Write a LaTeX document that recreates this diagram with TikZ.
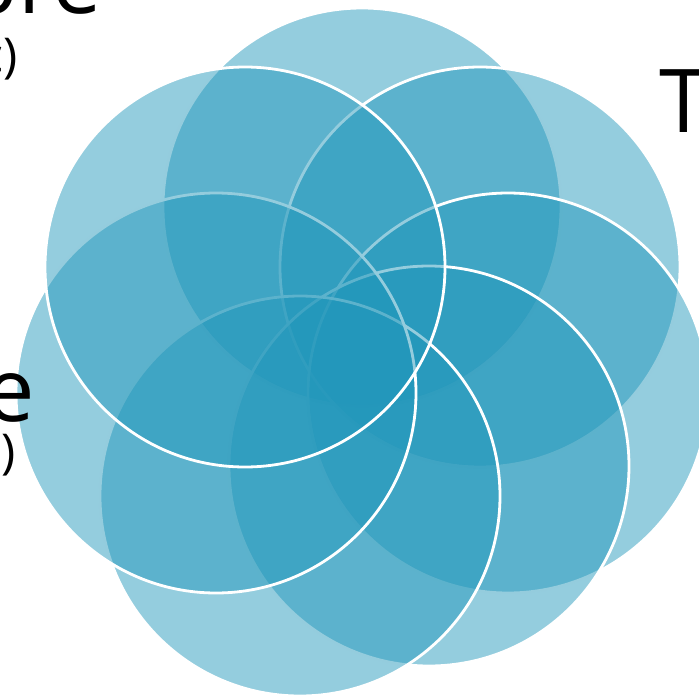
\documentclass[tikz,border=0pt]{standalone}
\usepackage{fontspec}
\setmainfont{Open Sans}
\definecolor{bluebase}{RGB}{32,150,186}
\begin{document}
\begin{tikzpicture}[x=1pt,y=-1pt,
  circ/.style={fill=bluebase, fill opacity=0.48, draw=white, line width=2.8pt},
  bigtxt/.style={inner sep=0pt, outer sep=0pt, text=black, font=\fontsize{88}{100}\selectfont},
  smalltxt/.style={inner sep=0pt, outer sep=0pt, text=black, font=\fontsize{48}{56}\selectfont}]
\useasboundingbox (0,0) rectangle (699,699);
\clip (0,0) rectangle (699,699);
% circles, clockwise from the top
\draw[circ] (362,207) circle (199);
\draw[circ] (480,267) circle (200);
\draw[circ] (508,393) circle (200);
\draw[circ] (429,466) circle (200);
\draw[circ] (300,496) circle (200);
\draw[circ] (216,393) circle (200);
\draw[circ] (245,267) circle (200);
% labels (cut by the picture edge)
\node[bigtxt, anchor=base east] (lblA) at (102,13) {bre};
\node[smalltxt, anchor=base east] (lblB) at (18,72) {c)};
\node[bigtxt, anchor=base west] (lblC) at (659,132) {T};
\node[bigtxt, anchor=base east] (lblD) at (35,421) {e};
\node[smalltxt, anchor=base east] (lblE) at (16,468) {)};
\end{tikzpicture}
\end{document}
